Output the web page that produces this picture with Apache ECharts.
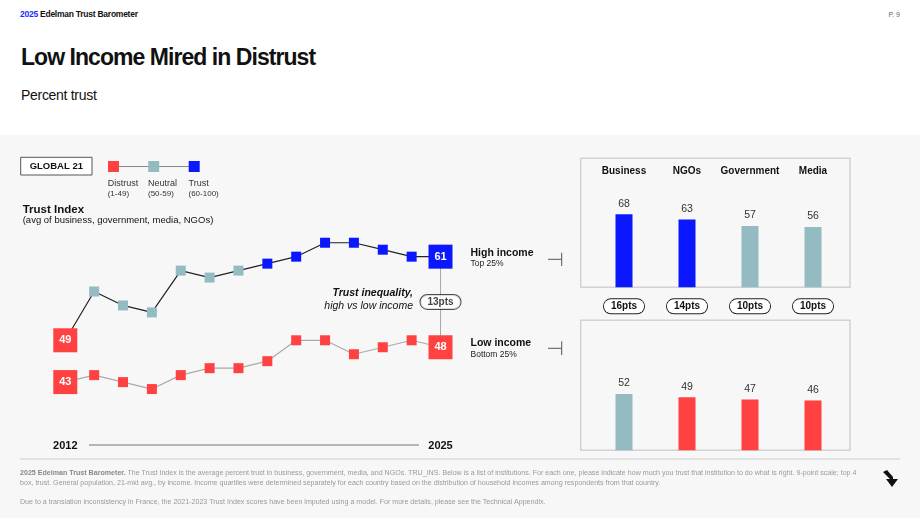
<!DOCTYPE html>
<html>
<head>
<meta charset="utf-8">
<script src="https://cdn.jsdelivr.net/npm/echarts@6/dist/echarts.min.js"></script>
<style>
  body { margin: 0; width: 920px; height: 518px; overflow: hidden; background: #fff; position: relative;
         font-family: "Liberation Sans", Arial, sans-serif; }
  .band { position: absolute; left: 0; top: 135px; width: 920px; height: 383px; background: #f7f7f7; }
  #chart { position: absolute; left: 0; top: 0; width: 920px; height: 518px; }
  .brand { position: absolute; left: 20px; top: 9px; font-size: 8.5px; font-weight: bold; letter-spacing: -0.25px; color: #111; }
  .brand span { color: #1a2bff; }
  .page { position: absolute; right: 20px; top: 11px; font-size: 7px; color: #666; }
  .title { position: absolute; left: 21px; top: 46px; font-size: 23px; line-height: 23px; font-weight: bold;
           letter-spacing: -0.95px; color: #111; }
  .sub { position: absolute; left: 21px; top: 87px; font-size: 14px; line-height: 16px; letter-spacing: -0.3px; color: #111; }
  .rule { position: absolute; left: 20px; top: 458px; width: 880px; height: 2px; background: #e2e2e2; }
  .foot { position: absolute; left: 20px; font-size: 7.1px; line-height: 10px; color: #9a9a9a; white-space: nowrap; }
  .foot b { color: #888; }
  .arrow { position: absolute; left: 881px; top: 469px; }
</style>
</head>
<body>
<div class="band"></div>
<div class="brand"><span>2025</span> Edelman Trust Barometer</div>
<div class="page">P. 9</div>
<div class="title">Low Income Mired in Distrust</div>
<div class="sub">Percent trust</div>
<div id="chart"></div>
<div class="rule"></div>
<div class="foot" style="top:468px"><b>2025 Edelman Trust Barometer.</b> The Trust Index is the average percent trust in business, government, media, and NGOs. TRU_INS. Below is a list of institutions. For each one, please indicate how much you trust that institution to do what is right. 9-point scale; top 4<br>box, trust. General population, 21-mkt avg., by income. Income quartiles were determined separately for each country based on the distribution of household incomes among respondents from that country.</div>
<div class="foot" style="top:497px">Due to a translation inconsistency in France, the 2021-2023 Trust Index scores have been imputed using a model. For more details, please see the Technical Appendix.</div>
<svg class="arrow" width="20" height="20" viewBox="0 0 20 20">
  <path d="M2 3 L6 1 L12 8 L12 10 L17 10 L11 18 L5 10 L9 10 Z" fill="#111"/>
</svg>

<script>
const years = ['2012', '2013', '2014', '2015', '2016', '2017', '2018', '2019', '2020', '2021', '2022', '2023', '2024', '2025'];
const highIncome = [49, 56, 54, 53, 59, 58, 59, 60, 61, 63, 63, 62, 61, 61];
const lowIncome = [43, 44, 43, 42, 44, 45, 45, 46, 49, 49, 47, 48, 49, 48];

const institutions = ['Business', 'NGOs', 'Government', 'Media'];
const highByInst = [68, 63, 57, 56];
const lowByInst = [52, 49, 47, 46];

const RED = '#ff4141';
const TEAL = '#94bbc1';
const BLUE = '#0a17ff';
const trustColor = v => (v < 50 ? RED : v < 60 ? TEAL : BLUE);

const last = years.length - 1;
const gap2025 = highIncome[last] - lowIncome[last];
const instGaps = highByInst.map((v, i) => (v - lowByInst[i]) + 'pts');

const lineData = arr => arr.map((v, i) => {
  const end = i === 0 || i === arr.length - 1;
  return { value: v, symbolSize: end ? 24 : 10, itemStyle: { color: trustColor(v) }, label: { show: end } };
});
const barData = arr => arr.map(v => ({ value: v, itemStyle: { color: trustColor(v) } }));

const pill = {
  color: '#111', fontWeight: 'bold', fontSize: 10,
  backgroundColor: '#fff', borderColor: '#222', borderWidth: 1, borderRadius: 8,
  padding: [2, 7, 2, 7]
};

const txt = (x, y, text, font, extra) => ({
  type: 'text', x, y, silent: true,
  style: Object.assign({ text, font, fill: '#111', align: 'left', verticalAlign: 'middle' }, extra || {})
});
const seg = (x1, y1, x2, y2, color, w) => ({
  type: 'line', silent: true, shape: { x1, y1, x2, y2 }, style: { stroke: color, lineWidth: w }
});

const chart = echarts.init(document.getElementById('chart'), null, { renderer: 'canvas' });

const option = {
  animation: false,
  textStyle: { fontFamily: 'Liberation Sans' },
  grid: [
    { left: 65.3, right: 479.5, top: 228.8, bottom: 115 },
    { left: 592.5, width: 252, top: 158.3, height: 129 },
    { left: 592.5, width: 252, top: 320.3, height: 130 }
  ],
  xAxis: [
    {
      gridIndex: 0, type: 'category', boundaryGap: false, data: years,
      axisLine: { show: false }, axisTick: { show: false },
      axisLabel: {
        interval: 0, margin: 37, fontSize: 11, fontWeight: 'bold', color: '#111',
        formatter: (v, i) => (i === 0 || i === last ? v : '')
      }
    },
    {
      gridIndex: 1, type: 'category', data: institutions, position: 'top',
      axisLine: { show: false }, axisTick: { show: false },
      axisLabel: { interval: 0, hideOverlap: false, inside: true, margin: 8, fontSize: 10, fontWeight: 'bold', color: '#111' }
    },
    {
      gridIndex: 1, type: 'category', data: instGaps, position: 'bottom',
      axisLine: { show: false }, axisTick: { show: false },
      axisLabel: Object.assign({ interval: 0, margin: 12 }, pill)
    },
    {
      gridIndex: 2, type: 'category', data: institutions, show: false
    }
  ],
  yAxis: [
    { gridIndex: 0, type: 'value', min: 40, max: 65, show: false },
    { gridIndex: 1, type: 'value', min: 0, max: 120, show: false },
    { gridIndex: 2, type: 'value', min: 0, max: 120, show: false }
  ],
  series: [
    {
      type: 'line', xAxisIndex: 0, yAxisIndex: 0, z: 1, silent: true,
      data: [[years[last], highIncome[last]], [years[last], lowIncome[last]]],
      symbol: 'none', lineStyle: { color: '#a8a8a8', width: 1 }
    },
    {
      name: 'High income', type: 'line', xAxisIndex: 0, yAxisIndex: 0, z: 3, silent: true,
      data: lineData(highIncome), symbol: 'rect',
      lineStyle: { color: '#222', width: 1.2 },
      label: { position: 'inside', color: '#fff', fontWeight: 'bold', fontSize: 11 }
    },
    {
      name: 'Low income', type: 'line', xAxisIndex: 0, yAxisIndex: 0, z: 3, silent: true,
      data: lineData(lowIncome), symbol: 'rect',
      lineStyle: { color: '#aaa', width: 1.2 },
      label: { position: 'inside', color: '#fff', fontWeight: 'bold', fontSize: 11 }
    },
    {
      type: 'scatter', xAxisIndex: 0, yAxisIndex: 0, z: 5, silent: true,
      data: [[years[last], (highIncome[last] + lowIncome[last]) / 2]],
      symbolSize: 1, itemStyle: { color: 'transparent' },
      label: Object.assign({ show: true, position: 'inside', formatter: gap2025 + 'pts' }, pill)
    },
    {
      type: 'bar', xAxisIndex: 1, yAxisIndex: 1, barWidth: 17, silent: true,
      data: barData(highByInst),
      label: { show: true, position: 'top', distance: 5, fontSize: 10.5, color: '#333' }
    },
    {
      type: 'bar', xAxisIndex: 3, yAxisIndex: 2, barWidth: 17, silent: true,
      data: barData(lowByInst),
      label: { show: true, position: 'top', distance: 5, fontSize: 10.5, color: '#333' }
    }
  ],
  graphic: [
    // panels
    { type: 'rect', silent: true, shape: { x: 580.7, y: 158.3, width: 269.3, height: 129 },
      style: { fill: 'none', stroke: '#d2d2d2', lineWidth: 1.5 } },
    { type: 'rect', silent: true, shape: { x: 580.7, y: 320.3, width: 269.3, height: 130 },
      style: { fill: 'none', stroke: '#d2d2d2', lineWidth: 1.5 } },
    // legend
    { type: 'rect', silent: true, shape: { x: 20.7, y: 157.3, width: 71.3, height: 17.7 },
      style: { fill: '#fff', stroke: '#555', lineWidth: 1 } },
    txt(56.3, 166.3, 'GLOBAL 21', 'bold 9.5px "Liberation Sans"', { align: 'center' }),
    seg(113.5, 166.5, 194, 166.5, '#888', 1),
    { type: 'rect', silent: true, shape: { x: 108, y: 161, width: 11, height: 11 }, style: { fill: RED } },
    { type: 'rect', silent: true, shape: { x: 148.2, y: 161, width: 11, height: 11 }, style: { fill: TEAL } },
    { type: 'rect', silent: true, shape: { x: 188.7, y: 161, width: 11, height: 11 }, style: { fill: BLUE } },
    txt(107.7, 184, 'Distrust', '9px "Liberation Sans"', { fill: '#333' }),
    txt(107.7, 193.7, '(1-49)', '8px "Liberation Sans"', { fill: '#333' }),
    txt(148, 184, 'Neutral', '9px "Liberation Sans"', { fill: '#333' }),
    txt(148, 193.7, '(50-59)', '8px "Liberation Sans"', { fill: '#333' }),
    txt(188.5, 184, 'Trust', '9px "Liberation Sans"', { fill: '#333' }),
    txt(188.5, 193.7, '(60-100)', '8px "Liberation Sans"', { fill: '#333' }),
    txt(22.7, 209.5, 'Trust Index', 'bold 11.5px "Liberation Sans"'),
    txt(22.7, 220.7, '(avg of business, government, media, NGOs)', '9.5px "Liberation Sans"'),
    // timeline rule
    seg(89, 445, 419, 445, '#a0a0a0', 1.5),
    // annotations
    txt(413, 292.7, 'Trust inequality,', 'italic bold 10.5px "Liberation Sans"', { align: 'right' }),
    txt(413, 306, 'high vs low income', 'italic 10.5px "Liberation Sans"', { align: 'right' }),
    txt(470.5, 252.7, 'High income', 'bold 10.5px "Liberation Sans"'),
    txt(470.5, 264, 'Top 25%', '8.5px "Liberation Sans"', { fill: '#222' }),
    txt(470.5, 343.3, 'Low income', 'bold 10.5px "Liberation Sans"'),
    txt(470.5, 355, 'Bottom 25%', '8.5px "Liberation Sans"', { fill: '#222' }),
    seg(548, 259.3, 561.7, 259.3, '#555', 1),
    seg(561.7, 252.7, 561.7, 266, '#555', 1),
    seg(548, 348.3, 561.7, 348.3, '#555', 1),
    seg(561.7, 341.3, 561.7, 355, '#555', 1)
  ]
};

chart.setOption(option);
</script>
</body>
</html>
